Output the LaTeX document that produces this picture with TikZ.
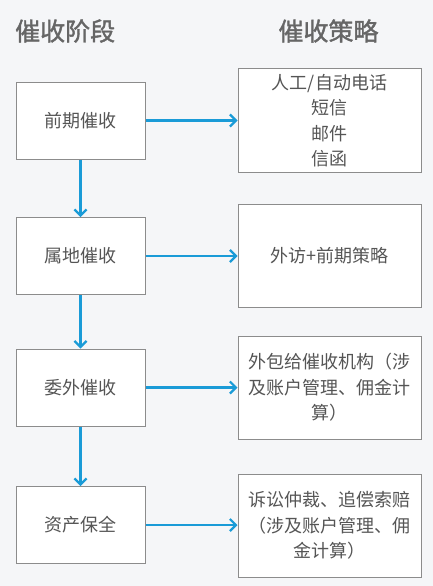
\documentclass[tikz,border=0pt]{standalone}
\usepackage{fontspec}
\setmainfont{Noto Sans CJK SC}
\newfontfamily\titlefont[FakeBold=1.5]{Noto Sans CJK SC}
\usetikzlibrary{arrows.meta}
\definecolor{bg}{HTML}{F5F6F8}
\definecolor{edge}{HTML}{8C8C8C}
\definecolor{txt}{HTML}{555555}
\definecolor{ttl}{HTML}{666666}
\definecolor{arr}{HTML}{1A9BD7}
\begin{document}
\begin{tikzpicture}[x=1pt,y=-1pt,
 stage/.style={draw=edge, line width=1pt, fill=white, minimum width=129pt, minimum height=77pt, inner sep=0pt, text=txt, font=\fontsize{18}{25.5}\selectfont},
 plan/.style={draw=edge, line width=1pt, fill=white, minimum width=183pt, minimum height=103pt, inner sep=0pt, text=txt, align=center, font=\fontsize{18}{25.5}\selectfont},
 title/.style={text=ttl, font=\titlefont\fontsize{25}{30}\selectfont, inner sep=0pt},
 flow/.style={draw=arr, line width=2.2pt, -{Straight Barb[length=6pt,width=12pt,line width=2.2pt]}}]
\fill[bg] (0,0) rectangle (433,586);
\useasboundingbox (0,0) rectangle (433,586);
\node[title, anchor=west] (t1) at (15,31) {催收阶段};
\node[title] (t2) at (328.5,31) {催收策略};
\node[stage] (s1) at (80.5,120.5) {前期催收};
\node[stage] (s2) at (80.5,256) {属地催收};
\node[stage] (s3) at (80.5,387.5) {委外催收};
\node[stage] (s4) at (80.5,525) {资产保全};
\node[plan] (p1) at (329.5,120.5) {人工/自动电话\\短信\\邮件\\信函};
\node[plan] (p2) at (329.5,255.5) {外访+前期策略};
\node[plan] (p3) at (329.5,387.5) {外包给催收机构（涉\\及账户管理、佣金计\\算）};
\node[plan] (p4) at (329.5,525.5) {诉讼仲裁、追偿索赔\\（涉及账户管理、佣\\金计算）};
\draw[flow] (s1) -- (p1);
\draw[flow] (s2.east) -- (s2.east -| p2.west);
\draw[flow] (s3) -- (p3);
\draw[flow] (s4.east) -- (s4.east -| p4.west);
\draw[flow] (s1) -- (s2);
\draw[flow] (s2) -- (s3);
\draw[flow] (s3) -- (s4);
\end{tikzpicture}
\end{document}
